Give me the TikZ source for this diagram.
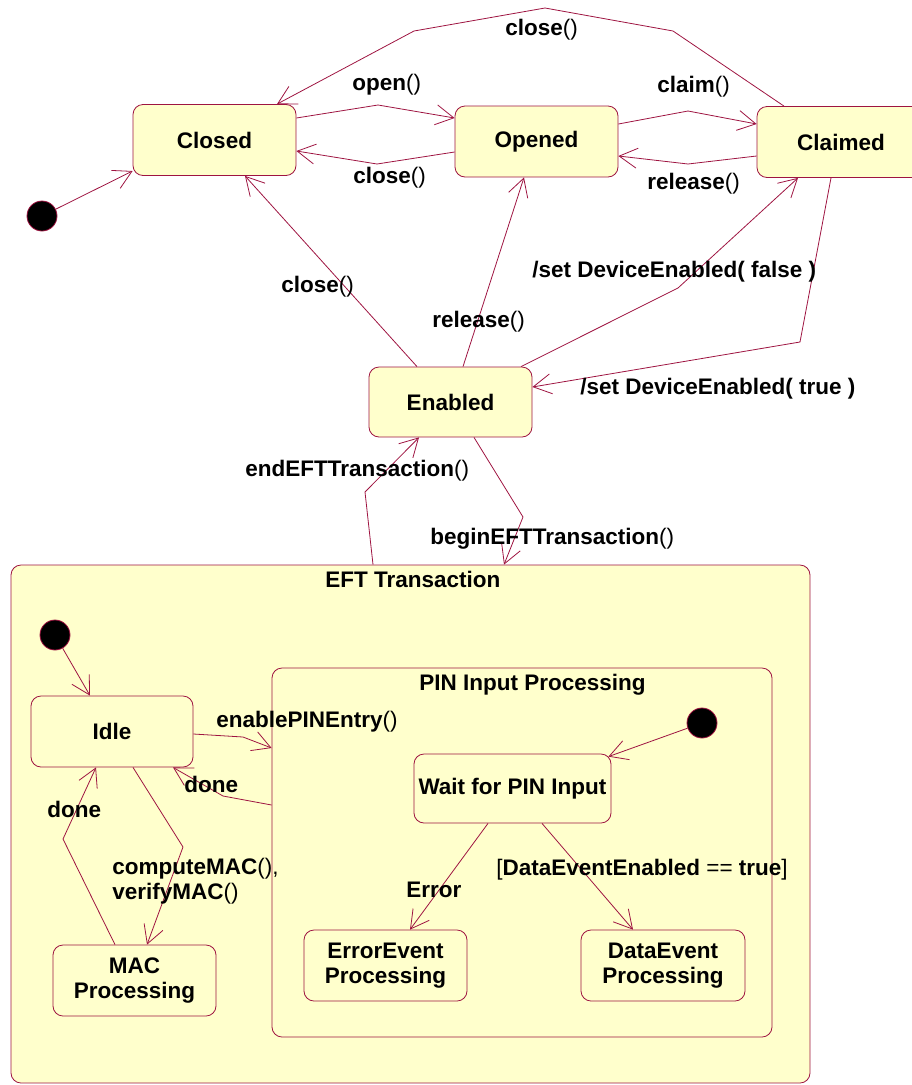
\documentclass[tikz,border=0pt]{standalone}
\usepackage{fontspec}
\setmainfont{Liberation Sans}
\usepackage{xcolor}
\usepackage{tikz}
\usetikzlibrary{arrows.meta}
\definecolor{umlred}{HTML}{9E1441}
\definecolor{umlfill}{HTML}{FFFFCC}
\newcommand{\noargs}{{\mdseries()}}

\begin{document}
\begin{tikzpicture}[x=1pt, y=-1pt, line width=0.8pt,
    state/.style={draw=umlred, fill=umlfill, rounded corners=10pt, inner sep=0pt,
                  minimum width=163pt, minimum height=71pt, align=center,
                  font=\fontsize{22.5}{25}\selectfont\bfseries},
    lbl/.style={anchor=west, inner sep=0pt, font=\fontsize{22.5}{25}\selectfont\bfseries},
    trans/.style={draw=umlred, -{Straight Barb[length=18pt,width=20pt]}},
    startdot/.style={circle, draw=umlred, fill=black, minimum size=30pt, inner sep=0pt}]
  \useasboundingbox (0,0) rectangle (911,1085);

  % top level states
  \node[state] (closed) at (214.5,140) {Closed};
  \node[state] (opened) at (536.5,141.5) {Opened};
  \node[state, minimum width=168pt] (claimed) at (841,142) {Claimed};
  \node[state, minimum height=70pt] (enabled) at (450.5,402) {Enabled};
  \node[startdot] (init) at (42,216) {};

  % composite states
  \node[state, minimum width=799pt, minimum height=518pt] (eft) at (410.5,824) {};
  \node[lbl] (eftTitle) at (325,579) {EFT Transaction};
  \node[state, minimum width=500pt, minimum height=369pt] (pin) at (522,852.5) {};
  \node[lbl] (pinTitle) at (419,685) {PIN Input Processing};
  \node[startdot] (eftInit) at (55,635) {};
  \node[startdot] (pinInit) at (702,723) {};
  \node[state, minimum width=162pt] (idle) at (112,731.5) {Idle};
  \node[state] (mac) at (134.5,980.5) {MAC\\Processing};
  \node[state, minimum width=197pt, minimum height=69pt] (wait) at (512.5,788.5) {Wait for PIN Input};
  \node[state] (errEv) at (385.5,965.5) {ErrorEvent\\Processing};
  \node[state, minimum width=164pt] (dataEv) at (663,965.5) {DataEvent\\Processing};

  % transitions between top level states
  \draw[trans] (init) -- (closed.west |- 0,171);
  \draw[trans] (closed.east |- 0,118) -- (378,105) -- (opened.west |- 0,118);
  \draw[trans] (opened.west |- 0,152) -- (377,164) -- (closed.east |- 0,151);
  \draw[trans] (opened.east |- 0,124) -- (688,111) -- (claimed.west |- 0,124);
  \draw[trans] (claimed.west |- 0,156) -- (688,164) -- (opened.east |- 0,156);
  \draw[trans] (claimed.north -| 784,0) -- (673,31) -- (545,8) -- (414,31)
    -- (closed.north -| 277,0);
  \draw[trans] (enabled.north -| 417,0) -- (closed.south -| 245,0);
  \draw[trans] (enabled.north -| 463,0) -- (opened.south -| 524,0);
  \draw[trans] (enabled.north -| 521,0) -- (678,288) -- (claimed.south -| 798,0);
  \draw[trans] (claimed.south -| 831,0) -- (800,342) -- (enabled.east |- 0,387);
  \draw[trans] (eft.north -| 373,0) -- (365,492) -- (enabled.south -| 419,0);
  \draw[trans] (enabled.south -| 474,0) -- (523,517) -- (eft.north -| 504,0);

  % transitions inside EFT Transaction
  \draw[trans] (eftInit) -- (idle.north -| 90,0);
  \draw[trans] (idle.east |- 0,734) -- (243,737) -- (pin.west |- 0,748);
  \draw[trans] (pin.west |- 0,805) -- (223,796) -- (idle.south -| 173,0);
  \draw[trans] (idle.south -| 133,0) -- (183,847) -- (mac.north -| 147,0);
  \draw[trans] (mac.north -| 115,0) -- (63,839) -- (idle.south -| 96,0);
  \draw[trans] (pinInit) -- ([xshift=-3pt,yshift=-3pt]wait.north east);
  \draw[trans] (wait.south -| 488,0) -- (errEv.north -| 410,0);
  \draw[trans] (wait.south -| 542,0) -- (dataEv.north -| 633,0);

  % transition labels
  \node[lbl] (lOpen) at (352,85) {open\noargs};
  \node[lbl] (lCloseA) at (353,178) {close\noargs};
  \node[lbl] (lClaim) at (657,87) {claim\noargs};
  \node[lbl] (lReleaseA) at (647,184) {release\noargs};
  \node[lbl] (lCloseB) at (505,30) {close\noargs};
  \node[lbl] (lCloseC) at (281,287) {close\noargs};
  \node[lbl] (lReleaseB) at (432,322) {release\noargs};
  \node[lbl] (lFalse) at (532,272) {/set DeviceEnabled( false )};
  \node[lbl] (lTrue) at (580,389) {/set DeviceEnabled( true )};
  \node[lbl] (lEnd) at (245,471) {endEFTTransaction\noargs};
  \node[lbl] (lBegin) at (430,539) {beginEFTTransaction\noargs};
  \node[lbl] (lEnable) at (216,722) {enablePINEntry\noargs};
  \node[lbl] (lDoneA) at (184,784) {done};
  \node[lbl] (lDoneB) at (47,809) {done};
  \node[lbl, align=left] (lMac) at (112,881) {computeMAC{\mdseries(),}\\verifyMAC\noargs};
  \node[lbl] (lError) at (406,890) {Error};
  \node[lbl] (lData) at (496,870) {{\mdseries[}DataEventEnabled {\mdseries==} true{\mdseries]}};
\end{tikzpicture}
\end{document}
